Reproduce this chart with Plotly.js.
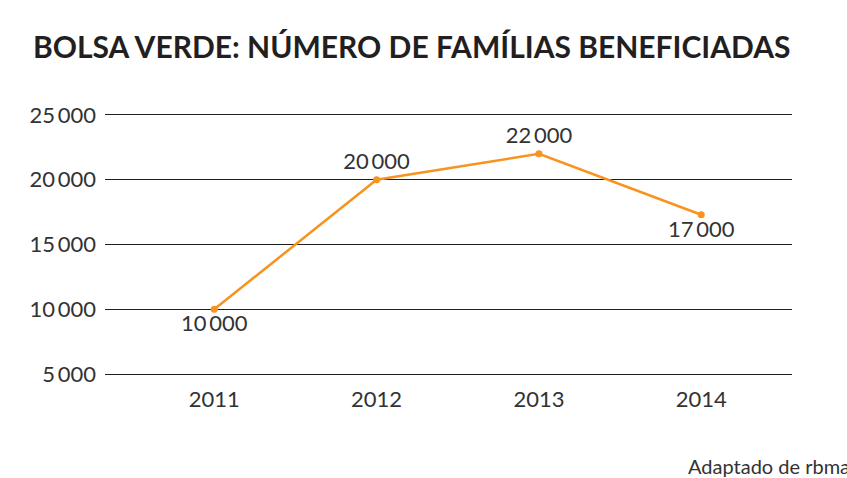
<!DOCTYPE html>
<html>
<head>
<meta charset="utf-8">
<script src="https://cdn.plot.ly/plotly-3.0.1.min.js"></script>
<style>
html,body{margin:0;padding:0;background:#fff;}
#chart{width:847px;height:478px;}
</style>
</head>
<body>
<div id="chart"></div>
<script>
const years = [2011, 2012, 2013, 2014];
const families = [10000, 20000, 22000, 17300];
const pointLabels = ["10\u2009000", "20\u2009000", "22\u2009000", "17\u2009000"];
const labelPositions = ["bottom center", "top center", "top center", "bottom center"];
const yTickVals = [5000, 10000, 15000, 20000, 25000];
const yTickText = ["5\u2009000", "10\u2009000", "15\u2009000", "20\u2009000", "25\u2009000"];
const titleText = "BOLSA VERDE: NÚMERO DE FAMÍLIAS BENEFICIADAS";
const sourceText = "Adaptado de rbma";

const orange = "#F7931E";
const fontFam = "Lato, 'Open Sans', sans-serif";
const ink = "#231f20";
const labelInk = "#333333";

const trace = {
  x: years,
  y: families,
  type: "scatter",
  mode: "lines+markers+text",
  line: {color: orange, width: 2.5},
  marker: {color: orange, size: 7},
  text: pointLabels,
  textposition: labelPositions,
  textfont: {family: fontFam, size: 22, color: labelInk},
  cliponaxis: false,
  hoverinfo: "none"
};

const layout = {
  width: 847,
  height: 478,
  margin: {l: 105, r: 55, t: 115, b: 104},
  paper_bgcolor: "#fff",
  plot_bgcolor: "#fff",
  showlegend: false,
  title: {
    text: "<b>" + titleText + "</b>",
    x: 33/847, xanchor: "left", xref: "container",
    y: 1 - 47/478, yanchor: "middle", yref: "container",
    font: {family: fontFam, size: 30, color: ink}
  },
  xaxis: {
    range: [2010.327, 2014.559],
    tickvals: years,
    ticktext: years.map(String),
    showgrid: false,
    zeroline: false,
    showline: true,
    mirror: true,
    linecolor: ink,
    linewidth: 1.2,
    ticks: "",
    ticklabelstandoff: 5,
    tickfont: {family: fontFam, size: 22, color: labelInk}
  },
  yaxis: {
    range: [5000, 25000],
    tickvals: yTickVals,
    ticktext: yTickText,
    showgrid: true,
    gridcolor: ink,
    gridwidth: 1.2,
    zeroline: false,
    showline: false,
    ticks: "",
    ticklabelstandoff: 8,
    tickfont: {family: fontFam, size: 22, color: labelInk}
  },
  annotations: [{
    text: sourceText,
    xref: "paper", yref: "paper",
    x: (686 - 105) / (847 - 160), xanchor: "left",
    y: -(466 - 374) / (478 - 219), yanchor: "middle",
    showarrow: false,
    font: {family: fontFam, size: 20, color: labelInk}
  }]
};

Plotly.newPlot("chart", [trace], layout, {displayModeBar: false, staticPlot: true});
</script>
</body>
</html>
